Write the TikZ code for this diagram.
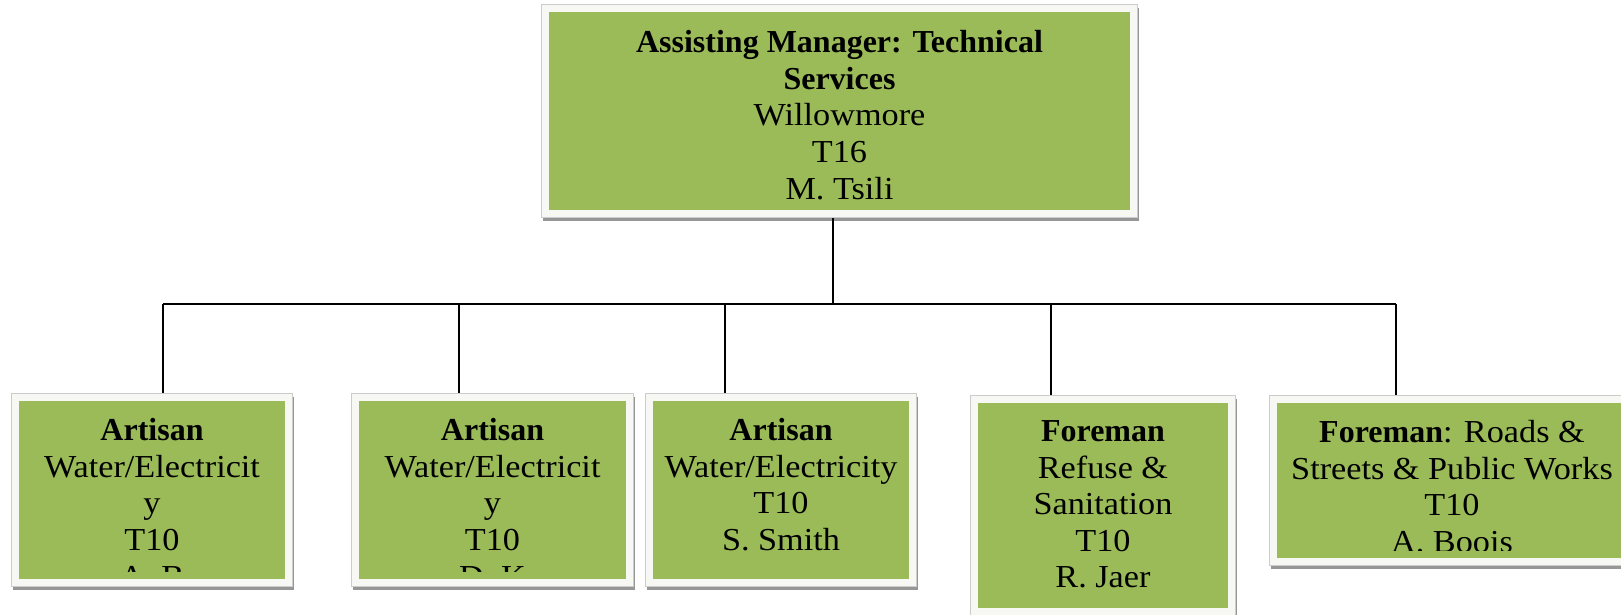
\documentclass[tikz,border=0pt]{standalone}
\usepackage{fontspec}
\setmainfont{Liberation Serif}[UprightFeatures={FakeStretch=1.07}]
\usetikzlibrary{shadows,calc}
\definecolor{boxgreen}{HTML}{9BBB59}
\definecolor{framewhite}{HTML}{F7F7F3}

\begin{document}
\begin{tikzpicture}[x=0.5pt,y=-0.5pt,
    frame/.style={fill=framewhite, draw=black!20, line width=0.4pt, inner sep=0pt,
      drop shadow={shadow xshift=0.8pt, shadow yshift=-1.6pt, fill=black!55, opacity=0.75},
      path picture={\fill[boxgreen] ($(path picture bounding box.north west)+(3.75pt,-3.75pt)$) rectangle ($(path picture bounding box.south east)+(-3.75pt,3.75pt)$);}},
    txt/.style={font=\fontsize{16}{18.3}\selectfont, align=center, inner sep=0pt, anchor=north},
    link/.style={line width=0.8pt}]
        \useasboundingbox (0,0) rectangle (1621,615);

        \node[frame, minimum width=298pt, minimum height=106.5pt] (mgr) at (839.5,111) {};
        \node[frame, minimum width=140.5pt, minimum height=96.5pt] (art1) at (152,490) {};
        \node[frame, minimum width=141pt, minimum height=96.5pt] (art2) at (492.5,490) {};
        \node[frame, minimum width=135.5pt, minimum height=96.5pt] (art3) at (781,490) {};
        \node[frame, minimum width=132.5pt, minimum height=110pt] (fore1) at (1103,505.5) {};
        \node[frame, minimum width=182.5pt, minimum height=85pt] (fore2) at (1452,480.5) {};

        \node[txt] (mgrtext) at ([yshift=-13pt]mgr.north) {\textbf{Assisting Manager: Technical}\\\textbf{Services}\\Willowmore\\T16\\M. Tsili};

        \begin{scope}
          \clip (art1.north west) rectangle ([yshift=7.7pt]art1.south east);
          \node[txt] (art1text) at ([yshift=-12.5pt]art1.north) {\textbf{Artisan}\\Water/Electricit\\y\\T10\\A. B};
        \end{scope}
        \begin{scope}
          \clip (art2.north west) rectangle ([yshift=7.7pt]art2.south east);
          \node[txt] (art2text) at ([yshift=-12.5pt]art2.north) {\textbf{Artisan}\\Water/Electricit\\y\\T10\\D. K};
        \end{scope}
        \node[txt] (art3text) at ([yshift=-12.5pt]art3.north) {\textbf{Artisan}\\Water/Electricity\\T10\\S. Smith};
        \node[txt] (fore1text) at ([yshift=-12.5pt]fore1.north) {\textbf{Foreman}\\Refuse \&\\Sanitation\\T10\\R. Jaer};
        \begin{scope}
          \clip (fore2.north west) rectangle ([yshift=7.7pt]fore2.south east);
          \node[txt] (fore2text) at ([yshift=-12.5pt]fore2.north) {\textbf{Foreman}: Roads \&\\Streets \& Public Works\\T10\\A. Boois};
        \end{scope}

        \coordinate (hub) at (833,304);
        \coordinate (bus1) at (163,304);
        \coordinate (bus2) at (459,304);
        \coordinate (bus3) at (725,304);
        \coordinate (bus4) at (1051,304);
        \coordinate (bus5) at (1396,304);

        \draw[link] (hub |- mgr.south) -- (hub);
        \draw[link] (bus1) -- (bus5);
        \draw[link] (bus1) -- (bus1 |- art1.north);
        \draw[link] (bus2) -- (bus2 |- art2.north);
        \draw[link] (bus3) -- (bus3 |- art3.north);
        \draw[link] (bus4) -- (bus4 |- fore1.north);
        \draw[link] (bus5) -- (bus5 |- fore2.north);
      \end{tikzpicture}
\end{document}
